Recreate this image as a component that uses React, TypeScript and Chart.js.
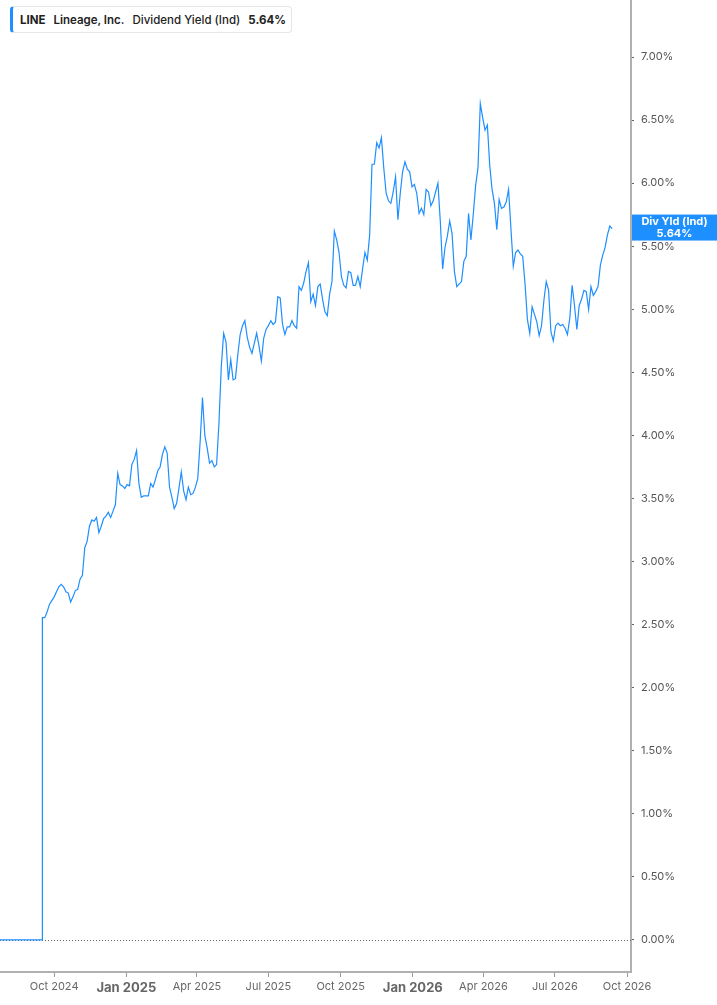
import React, { useEffect, useRef } from "react";
import { Chart, registerables } from "chart.js";

Chart.register(...registerables);

// ---- Data ----
const preListingDates = ["2024-07-24", "2024-09-16"];
const preListingValues = [0, 0];

const seriesStartDate = "2024-09-16";
const seriesStepDays = 3;
const yieldValues = [
  2.555, 2.555, 2.6, 2.66, 2.69, 2.72, 2.76, 2.8, 2.82, 2.8,
  2.76, 2.75, 2.68, 2.72, 2.77, 2.78, 2.86, 2.89, 3.11, 3.16,
  3.28, 3.33, 3.32, 3.35, 3.23, 3.28, 3.34, 3.36, 3.39, 3.35,
  3.4, 3.45, 3.7, 3.61, 3.6, 3.58, 3.61, 3.6, 3.77, 3.81,
  3.88, 3.62, 3.51, 3.52, 3.52, 3.52, 3.62, 3.59, 3.65, 3.72,
  3.75, 3.85, 3.91, 3.86, 3.59, 3.51, 3.42, 3.46, 3.58, 3.71,
  3.56, 3.49, 3.59, 3.53, 3.54, 3.59, 3.66, 3.95, 4.3, 4.0,
  3.9, 3.78, 3.8, 3.75, 3.77, 4.1, 4.55, 4.81, 4.74, 4.44,
  4.6, 4.44, 4.45, 4.64, 4.8, 4.87, 4.91, 4.78, 4.7, 4.65,
  4.73, 4.81, 4.71, 4.59, 4.77, 4.84, 4.87, 4.91, 4.88, 4.9,
  5.1, 5.09, 4.88, 4.8, 4.86, 4.86, 4.91, 4.87, 4.85, 5.18,
  5.15, 5.21, 5.3, 5.37, 5.06, 5.12, 5.03, 5.18, 5.2, 5.08,
  4.98, 4.95, 5.12, 5.22, 5.62, 5.55, 5.45, 5.26, 5.19, 5.17,
  5.3, 5.29, 5.19, 5.19, 5.26, 5.18, 5.32, 5.45, 5.39, 5.59,
  6.15, 6.15, 6.32, 6.28, 6.36, 6.12, 5.92, 5.86, 5.84, 5.93,
  6.05, 5.71, 5.92, 6.09, 6.17, 6.11, 6.09, 5.97, 5.99, 5.92,
  5.76, 5.8, 5.75, 5.95, 5.93, 5.82, 5.86, 5.93, 6.0, 5.7,
  5.32, 5.49, 5.58, 5.7, 5.6, 5.3, 5.18, 5.2, 5.22, 5.38,
  5.42, 5.76, 5.55, 5.75, 5.98, 6.12, 6.63, 6.52, 6.42, 6.46,
  6.14, 5.95, 5.84, 5.63, 5.87, 5.8, 5.81, 5.85, 5.95, 5.64,
  5.34, 5.45, 5.47, 5.44, 5.42, 5.2, 4.92, 4.81, 5.02, 4.96,
  4.9, 4.79, 4.87, 5.07, 5.22, 5.15, 4.82, 4.75, 4.87, 4.89,
  4.87, 4.88, 4.85, 4.8, 4.93, 5.19, 5.03, 4.84, 5.03, 5.08,
  5.15, 5.14, 5.0, 5.18, 5.11, 5.14, 5.18, 5.35, 5.43, 5.49,
  5.59, 5.66, 5.64,
];

const xAxisStart = "2024-07-24";
const xAxisEnd = "2026-10-06";
const xTickDates = [
  "2024-10-01", "2025-01-01", "2025-04-01", "2025-07-01", "2025-10-01",
  "2026-01-01", "2026-04-01", "2026-07-01", "2026-10-01",
];
const xTickLabels = [
  "Oct 2024", "Jan 2025", "Apr 2025", "Jul 2025", "Oct 2025",
  "Jan 2026", "Apr 2026", "Jul 2026", "Oct 2026",
];
const yTickValues = [0, 0.5, 1, 1.5, 2, 2.5, 3, 3.5, 4, 4.5, 5, 5.5, 6, 6.5, 7];
const yMin = -0.254;
const yMax = 7.452;

const ticker = "LINE";
const companyName = "Lineage, Inc.";
const metricName = "Dividend Yield (Ind)";
const boxTitle = "Div Yld (Ind)";
const lastValueText = "5.64%";

const BLUE = "#1e8fff";
const FONT = "Inter, 'Noto Sans', sans-serif";

function dayNum(s: string): number {
  const [y, m, d] = s.split("-").map(Number);
  return Date.UTC(y, m - 1, d) / 86400000;
}

export default function App() {
  const canvasRef = useRef<HTMLCanvasElement | null>(null);

  useEffect(() => {
    document.body.style.margin = "0";
    const canvas = canvasRef.current;
    if (!canvas) return;

    const start = dayNum(seriesStartDate);
    const points = [
      ...preListingDates.map((d, i) => ({ x: dayNum(d), y: preListingValues[i] })),
      ...yieldValues.map((v, i) => ({ x: start + i * seriesStepDays, y: v })),
    ];
    const tickDays = xTickDates.map(dayNum);
    const labelFor = (v: number) => {
      const idx = tickDays.indexOf(v);
      return idx >= 0 ? xTickLabels[idx] : "";
    };

    const zeroLine = {
      id: "zeroLine",
      beforeDatasetsDraw(chart: any) {
        const { ctx, chartArea, scales } = chart;
        const y = Math.round(scales.y.getPixelForValue(0)) + 0.5;
        ctx.save();
        ctx.strokeStyle = "#666";
        ctx.lineWidth = 1;
        ctx.setLineDash([1, 2]);
        ctx.beginPath();
        ctx.moveTo(chartArea.left, y);
        ctx.lineTo(chartArea.right, y);
        ctx.stroke();
        ctx.restore();
      },
    };

    const lastBox = {
      id: "lastBox",
      afterDraw(chart: any) {
        const { ctx, chartArea, scales } = chart;
        const lastVal = yieldValues[yieldValues.length - 1];
        const y = scales.y.getPixelForValue(lastVal);
        const left = chartArea.right + 1;
        const right = chart.width;
        const h = 26;
        ctx.save();
        ctx.fillStyle = BLUE;
        ctx.fillRect(left, y - h / 2 - 1, right - left, h);
        ctx.fillStyle = "#fff";
        ctx.font = `bold 11px ${FONT}`;
        ctx.textAlign = "center";
        ctx.textBaseline = "middle";
        const cx = (left + right) / 2;
        ctx.fillText(boxTitle, cx, y - 7);
        ctx.fillText(lastValueText, cx, y + 5);
        ctx.restore();
      },
    };

    const chart = new Chart(canvas, {
      type: "line",
      data: {
        datasets: [
          {
            data: points,
            borderColor: BLUE,
            borderWidth: 1.2,
            pointRadius: 0,
            tension: 0,
            fill: false,
          },
        ],
      },
      options: {
        animation: false,
        responsive: false,
        events: [],
        layout: { padding: 0 },
        plugins: {
          legend: { display: false },
          tooltip: { enabled: false },
        },
        scales: {
          x: {
            type: "linear",
            min: dayNum(xAxisStart),
            max: dayNum(xAxisEnd),
            afterBuildTicks(scale: any) {
              scale.ticks = tickDays.map((v) => ({ value: v }));
            },
            afterFit(scale: any) {
              scale.height = 33;
              scale.paddingLeft = 0;
              scale.paddingRight = 0;
            },
            grid: {
              drawOnChartArea: false,
              drawTicks: true,
              tickLength: 5,
              color: "#999",
            },
            border: { display: true, color: "#b0b0b0", width: 2 },
            ticks: {
              autoSkip: false,
              maxRotation: 0,
              padding: 3,
              color: "#666",
              font: (ctx: any) => {
                const lbl = ctx.tick ? labelFor(ctx.tick.value) : "";
                return lbl.startsWith("Jan")
                  ? { family: FONT, size: 13, weight: "bold" }
                  : { family: FONT, size: 11, weight: "normal" };
              },
              callback: (v: any) => labelFor(Number(v)),
            },
          },
          y: {
            type: "linear",
            position: "right",
            min: yMin,
            max: yMax,
            afterBuildTicks(scale: any) {
              scale.ticks = yTickValues.map((v) => ({ value: v }));
            },
            afterFit(scale: any) {
              scale.width = 86;
              scale.paddingTop = 0;
              scale.paddingBottom = 0;
            },
            grid: {
              drawOnChartArea: false,
              drawTicks: true,
              tickLength: 3,
              color: "#666",
            },
            border: { display: true, color: "#b0b0b0", width: 2 },
            ticks: {
              padding: 7,
              color: "#555",
              font: { family: FONT, size: 11 },
              callback: (v: any) => Number(v).toFixed(2) + "%",
            },
          },
        },
      },
      plugins: [zeroLine, lastBox],
    } as any);

    return () => chart.destroy();
  }, []);

  return (
    <div style={{ position: "relative", width: 717, height: 1005, overflow: "hidden", background: "#fff" }}>
      <canvas ref={canvasRef} width={717} height={1005} style={{ display: "block" }} />
      <div
        style={{
          position: "absolute",
          left: 10,
          top: 6,
          height: 27,
          boxSizing: "border-box",
          padding: "0 5px 0 7px",
          display: "flex",
          alignItems: "center",
          background: "#fff",
          border: "1px solid #e6e6e6",
          borderLeft: `3px solid ${BLUE}`,
          borderRadius: 4,
          fontFamily: FONT,
          fontSize: 11.5,
          color: "#222",
          whiteSpace: "nowrap",
        }}
      >
        <span style={{ fontWeight: 700, marginRight: 8 }}>{ticker}</span>
        <span style={{ fontWeight: 600, marginRight: 8 }}>{companyName}</span>
        <span style={{ fontWeight: 500, marginRight: 8 }}>{metricName}</span>
        <span style={{ fontWeight: 700 }}>{lastValueText}</span>
      </div>
    </div>
  );
}
